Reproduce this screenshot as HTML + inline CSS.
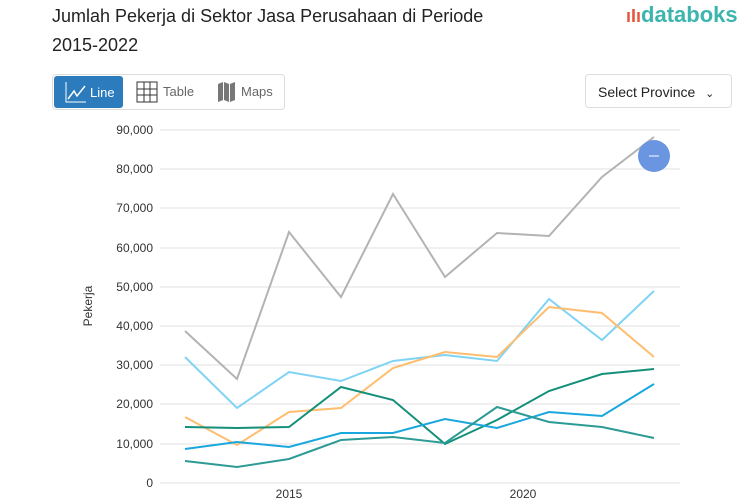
<!DOCTYPE html><html><head><style>
body{margin:0;width:753px;height:498px;overflow:hidden;background:#fff;font-family:"Liberation Sans",sans-serif;position:relative}
.t{position:absolute;left:52px;top:2px;font-size:18px;line-height:29px;color:#222}
.logo{position:absolute;left:626px;top:2px;font-size:22px;color:#3bb5ae;font-weight:bold}
.tabs{position:absolute;left:52px;top:74px;width:231px;height:34px;border:1px solid #ddd;border-radius:4px}
.on{position:absolute;left:1px;top:1px;width:69px;height:32px;background:#2b7bbd;border-radius:3px;color:#fff;font-size:13px}
.sel{position:absolute;left:585px;top:74px;width:147px;height:34px;border:1px solid #ddd;border-radius:4px;font-size:14px;color:#222;line-height:34px;padding-left:12px;box-sizing:border-box}
</style></head><body>
<div class="t">Jumlah Pekerja di Sektor Jasa Perusahaan di Periode<br>2015-2022</div>
<div class="logo"><span style="color:#e8553e;font-size:18px">ıIı</span>databoks</div>
<div class="tabs"><div class="on"><svg width="24" height="24" style="position:absolute;left:10px;top:4px"><path d="M2 2V22H22" stroke="#fff" fill="none"/><path d="M4 19L10 11L13 16L21 6" stroke="#fff" fill="none" stroke-width="1.5"/></svg><span style="position:absolute;left:36px;top:9px">Line</span></div>
<svg width="24" height="24" style="position:absolute;left:82px;top:5px"><g stroke="#333" fill="none"><rect x="2" y="2" width="20" height="20"/><path d="M9 2V22M15 2V22M2 9H22M2 15H22"/></g></svg><span style="position:absolute;left:110px;top:9px;font-size:13px;color:#666">Table</span>
<svg width="22" height="24" style="position:absolute;left:163px;top:5px"><path d="M2 4L7 2V20L2 22ZM8 2L13 4V22L8 20ZM14 4L19 2V20L14 22Z" fill="#777"/></svg><span style="position:absolute;left:188px;top:9px;font-size:13px;color:#666">Maps</span></div>
<div class="sel">Select Province <span style="font-size:11px;margin-left:6px">&#8964;</span></div>
<svg width="753" height="498" style="position:absolute;left:0;top:0">
<g stroke="#e2e2e2" stroke-width="1">
<line x1="160" x2="680" y1="130" y2="130"/><line x1="160" x2="680" y1="169" y2="169"/><line x1="160" x2="680" y1="208" y2="208"/><line x1="160" x2="680" y1="248" y2="248"/><line x1="160" x2="680" y1="287" y2="287"/><line x1="160" x2="680" y1="326" y2="326"/><line x1="160" x2="680" y1="365" y2="365"/><line x1="160" x2="680" y1="404" y2="404"/><line x1="160" x2="680" y1="444" y2="444"/><line x1="160" x2="680" y1="483" y2="483"/></g>
<g font-size="12" fill="#333" text-anchor="end">
<text x="153" y="134">90,000</text><text x="153" y="173">80,000</text><text x="153" y="212">70,000</text><text x="153" y="252">60,000</text><text x="153" y="291">50,000</text><text x="153" y="330">40,000</text><text x="153" y="369">30,000</text><text x="153" y="408">20,000</text><text x="153" y="448">10,000</text><text x="153" y="487">0</text></g>
<g font-size="12" fill="#333" text-anchor="middle"><text x="289" y="498">2015</text><text x="523" y="498">2020</text></g>
<text transform="translate(92,306) rotate(-90)" font-size="12" fill="#333" text-anchor="middle">Pekerja</text>
<g fill="none" stroke-width="2">
<polyline stroke="#b3b3b3" points="185,331 237,379 289,232 341,297 393,194 445,277 497,233 549,236 602,177 654,137"/>
<polyline stroke="#7fd3f4" points="185,357 237,408 289,372 341,381 393,361 445,355 497,361 549,299 602,340 654,291"/>
<polyline stroke="#ffbd6e" points="185,417 237,445 289,412 341,408 393,368 445,352 497,357 549,307 602,313 654,357"/>
<polyline stroke="#14907a" points="185,427 237,428 289,427 341,387 393,400 445,444 497,420 549,391 602,374 654,369"/>
<polyline stroke="#1aa7dd" points="185,449 237,442 289,447 341,433 393,433 445,419 497,428 549,412 602,416 654,384"/>
<polyline stroke="#2d9b95" points="185,461 237,467 289,459 341,440 393,437 445,443 497,407 549,422 602,427 654,438"/>
</g>
<circle cx="654" cy="156" r="16" fill="#6a95e0"/><line x1="649" y1="156" x2="659" y2="156" stroke="#fff"/>
</svg>
</body></html>
